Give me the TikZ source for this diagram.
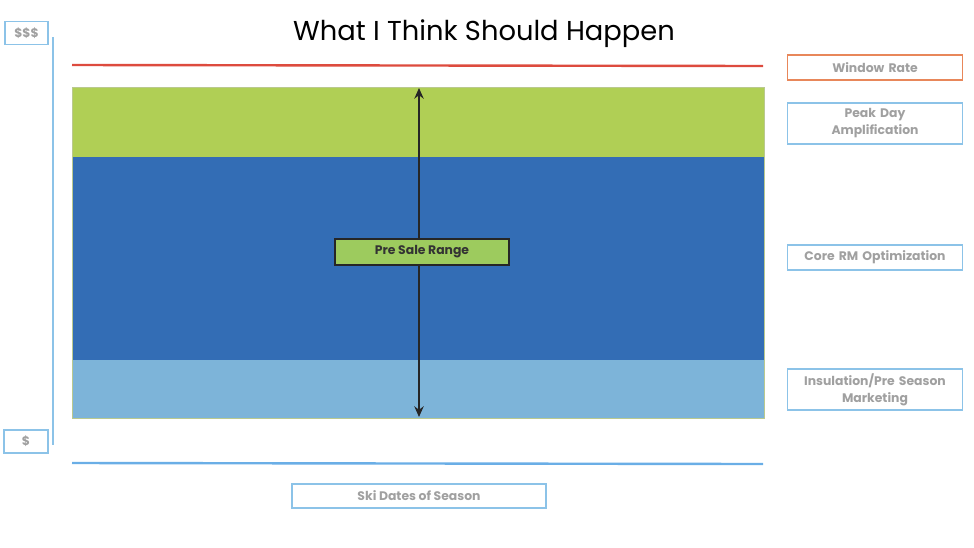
\documentclass[tikz,border=0pt]{standalone}
\usepackage{fontspec}
\setmainfont{Poppins}
\usepackage{tikz}
\usetikzlibrary{arrows.meta, positioning, fit, calc}
\usepackage{xcolor}
\definecolor{peakgreen}{HTML}{B0CF55}
\definecolor{coreblue}{HTML}{336DB5}
\definecolor{insulblue}{HTML}{7DB4D9}
\definecolor{salegreen}{HTML}{9DCB5E}
\definecolor{boxblue}{HTML}{8CC3E8}
\definecolor{lineblue}{HTML}{6AAEE6}
\definecolor{rateorange}{HTML}{E8875A}
\definecolor{ratered}{HTML}{DD4B3E}
\definecolor{labelgray}{HTML}{A0A0A0}

\begin{document}
\begin{tikzpicture}[
  x=0.75pt, y=-0.75pt,
  legend/.style={draw=boxblue, line width=1.2pt, fill=white, minimum width=131pt,
    text width=125pt, align=center, text=labelgray, font=\bfseries\fontsize{9.3}{12.75}\selectfont, inner sep=1pt},
  axisbox/.style={draw=boxblue, line width=1.2pt, text=labelgray, font=\bfseries\fontsize{9.3}{10.5}\selectfont,
    minimum height=17pt, inner sep=1pt}
]

\useasboundingbox (0,0) rectangle (974,547);

% title
\node (title) at (484,34) {\fontsize{20.5}{24}\selectfont What I Think Should Happen};

% price bands
\fill[peakgreen] (72,87) rectangle (764,157);
\fill[coreblue] (72,157) rectangle (764,360);
\fill[insulblue] (72,360) rectangle (764,418);
\draw[peakgreen!80!black!60, line width=0.6pt] (72,87) rectangle (764,418);

% window rate and season lines
\draw[ratered, line width=1.8pt] (72,65) -- (763,66);
\draw[lineblue, line width=1.8pt] (72,463) -- (763,464);

% price axis
\node[axisbox, minimum width=32pt] (high) at (26.5,33) {\$\$\$};
\node[axisbox, minimum width=33pt] (low) at (26,441.5) {\$};
\draw[boxblue, line width=1.8pt] (53,37) -- (53,445);

% pre sale range
\coordinate (top) at (419,88);
\coordinate (bot) at (419,417);
\draw[{Stealth[length=8pt,width=7pt]}-{Stealth[length=8pt,width=7pt]}, line width=2.2pt, black!85] (top) -- (bot);
\node[draw=black!85, line width=1pt, fill=salegreen, minimum width=130.5pt, minimum height=19.5pt,
  font=\bfseries\fontsize{9.3}{10.5}\selectfont, text=black!80] (sale) at (422,252) {Pre Sale Range};

% legend
\node[legend, draw=rateorange, minimum height=19pt] (rate) at (875,67.5) {Window Rate};
\node[legend, minimum height=31pt] (peak) at (875,123.5) {Peak Day\\Amplification};
\node[legend, minimum height=19pt] (core) at (875,257.5) {Core RM Optimization};
\node[legend, minimum height=31pt] (insul) at (875,389.5) {Insulation/Pre Season\\Marketing};

\node[axisbox, minimum width=190.5pt, minimum height=18pt] (season) at (419,496) {Ski Dates of Season};

\end{tikzpicture}
\end{document}
